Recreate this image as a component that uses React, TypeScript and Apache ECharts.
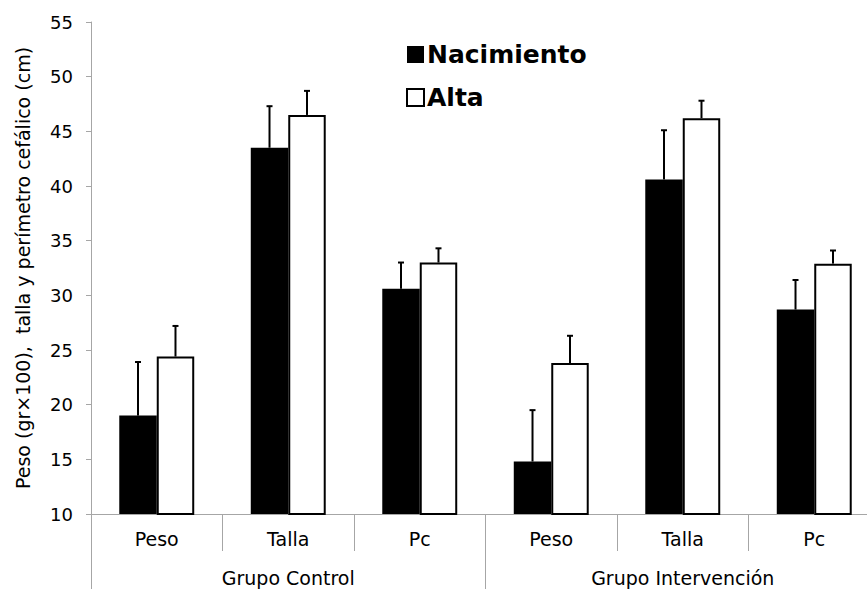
import React, { useEffect, useRef } from "react";
import * as echarts from "echarts";

const categories = ["Peso", "Talla", "Pc", "Peso", "Talla", "Pc"];
const groups = ["Grupo Control", "Grupo Intervención"];
const nacimiento = [19.0, 43.5, 30.6, 14.8, 40.6, 28.7];
const nacimientoErrTop = [23.9, 47.3, 33.0, 19.5, 45.1, 31.4];
const alta = [24.4, 46.5, 33.0, 23.8, 46.2, 32.9];
const altaErrTop = [27.2, 48.7, 34.3, 26.3, 47.8, 34.1];

const FONT = "DejaVu Sans";
const BAR_W = 0.285;

function errorSeries(name: string, vals: number[], tops: number[], side: number) {
  return {
    type: "custom",
    name: name + "_err",
    xAxisIndex: 0,
    yAxisIndex: 0,
    z: 5,
    silent: true,
    data: vals.map((v, i) => [i, v, tops[i]]),
    renderItem: (params: any, api: any) => {
      const idx = api.value(0);
      const base = api.coord([idx, api.value(1)]);
      const top = api.coord([idx, api.value(2)]);
      const band = api.size([1, 0])[0];
      const x = base[0] + side * band * BAR_W * 0.5;
      const style = { stroke: "#000", lineWidth: 2 };
      return {
        type: "group",
        children: [
          { type: "line", shape: { x1: x, y1: base[1], x2: x, y2: top[1] }, style },
          { type: "line", shape: { x1: x - 3, y1: top[1], x2: x + 3, y2: top[1] }, style },
        ],
      };
    },
  };
}

export default function App() {
  const ref = useRef<HTMLDivElement>(null);
  useEffect(() => {
    if (!ref.current) return;
    const chart = echarts.init(ref.current, null, { renderer: "svg" });
    chart.setOption({
      animation: false,
      backgroundColor: "#fff",
      textStyle: { fontFamily: FONT },
      grid: { left: 91, right: 0, top: 22, bottom: 75, containLabel: false },
      legend: {
        orient: "vertical",
        left: 401,
        top: 37,
        icon: "rect",
        itemWidth: 17,
        itemHeight: 17,
        itemGap: 18,
        data: ["Nacimiento", "Alta"],
        textStyle: { fontFamily: FONT, fontSize: 25, fontWeight: "bold", color: "#000", padding: [0, 0, 0, -2] },
      },
      xAxis: [
        {
          type: "category",
          data: categories,
          position: "bottom",
          axisLine: { show: true, lineStyle: { color: "#a6a6a6", width: 1 } },
          axisTick: { show: true, interval: 0, length: 37, lineStyle: { color: "#a6a6a6" } },
          axisLabel: { interval: 0, margin: 15, fontSize: 19, color: "#000", fontFamily: FONT },
        },
        {
          type: "category",
          data: groups,
          position: "bottom",
          axisLine: { show: false },
          axisTick: { show: true, interval: 0, length: 76, lineStyle: { color: "#a6a6a6" } },
          axisLabel: { interval: 0, margin: 54, fontSize: 19, color: "#000", fontFamily: FONT },
        },
      ],
      yAxis: {
        type: "value",
        min: 10,
        max: 55,
        interval: 5,
        name: "Peso (gr×100),  talla y perímetro cefálico (cm)",
        nameLocation: "middle",
        nameGap: 59,
        nameTextStyle: { fontSize: 19, color: "#000", fontFamily: FONT },
        axisLine: { show: true, lineStyle: { color: "#a6a6a6", width: 1 } },
        axisTick: { show: true, length: 5, lineStyle: { color: "#a6a6a6" } },
        axisLabel: { margin: 18, fontSize: 18, color: "#000", fontFamily: FONT },
        splitLine: { show: false },
      },
      series: [
        {
          type: "bar",
          name: "Nacimiento",
          data: nacimiento,
          barWidth: BAR_W * 100 + "%",
          barGap: "0%",
          itemStyle: { color: "#000" },
        },
        {
          type: "bar",
          name: "Alta",
          data: alta,
          barWidth: BAR_W * 100 + "%",
          barGap: "0%",
          itemStyle: { color: "#fff", borderColor: "#000", borderWidth: 2 },
        },
        errorSeries("Nacimiento", nacimiento, nacimientoErrTop, -1),
        errorSeries("Alta", alta, altaErrTop, 1),
      ],
    });
    return () => chart.dispose();
  }, []);
  return (
    <div style={{ position: "absolute", left: 0, top: 0, width: 867, height: 589, overflow: "hidden", background: "#fff" }}>
      <div ref={ref} style={{ width: 880, height: 589 }} />
    </div>
  );
}
